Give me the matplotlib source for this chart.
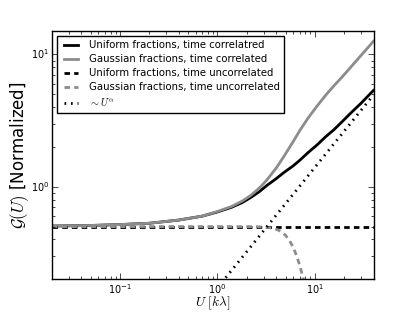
import numpy as np
import matplotlib
matplotlib.use("Agg")
import matplotlib.pyplot as plt

# values
u_corr = [0.02, 0.05, 0.1, 0.2, 0.4, 0.7, 1.0, 1.4, 1.8, 2.2, 2.7, 3.2, 4.0, 4.8, 6.0,
          7.1, 8.5, 10.6, 13.0, 15.7, 19.0, 23.3, 30.0, 37.4, 40.0]
uniform_corr = [0.505, 0.51, 0.518, 0.53, 0.56, 0.6, 0.645, 0.70, 0.76, 0.83, 0.92, 1.02, 1.15,
                1.28, 1.44, 1.60, 1.81, 2.08, 2.40, 2.70, 3.10, 3.60, 4.30, 5.09, 5.35]
gauss_corr = [0.505, 0.51, 0.518, 0.53, 0.56, 0.6, 0.65, 0.71, 0.78, 0.86, 0.98, 1.12, 1.38,
              1.69, 2.2, 2.70, 3.3, 4.1, 4.95, 5.8, 6.75, 8.0, 9.9, 11.9, 12.6]

u_uncorr = [0.02, 40.0]
uniform_uncorr = [0.5, 0.5]

u_gauss_uncorr = [0.02, 0.1, 1.0, 2.0, 2.5, 3.0, 3.5, 4.0, 4.5, 5.0, 5.5, 6.0, 6.5, 7.0, 7.5, 8.0, 8.5]
gauss_uncorr = [0.5, 0.5, 0.5, 0.5, 0.499, 0.496, 0.49, 0.478, 0.46, 0.43, 0.39, 0.35, 0.30, 0.255, 0.21, 0.17, 0.13]

u_power = [1.0, 40.0]
power = [0.172, 4.95]

plt.style.use("classic")
plt.rcParams["figure.facecolor"] = "white"
plt.rcParams["savefig.facecolor"] = "white"
plt.rcParams["lines.scale_dashes"] = False

fig, ax = plt.subplots(figsize=(4.15, 3.12), dpi=100)
fig.subplots_adjust(left=0.125, right=0.9, bottom=0.105, top=0.9)

gris = "#8c8c8c"
ax.plot(u_corr, uniform_corr, color="k", lw=2, label="Uniform fractions, time correlatred")
ax.plot(u_corr, gauss_corr, color=gris, lw=2, label="Gaussian fractions, time correlated")
ax.plot(u_uncorr, uniform_uncorr, color="k", lw=2, ls="--", dashes=(4, 3),
        label="Uniform fractions, time uncorrelated")
ax.plot(u_gauss_uncorr, gauss_uncorr, color=gris, lw=2, ls="--", dashes=(4, 3),
        label="Gaussian fractions, time uncorrelated")
ax.plot(u_power, power, color="k", lw=2, ls=":", dashes=(1.2, 3.5), label=r"$\sim U^{\alpha}$")

ax.set_xscale("log")
ax.set_yscale("log")
ax.set_xlim(0.02, 40)
ax.set_ylim(0.2, 15)

ax.tick_params(which="major", labelsize=7, pad=2)
ax.set_xlabel(r"$U\ [k\lambda]$", fontsize=9.5, labelpad=-1)
ax.set_ylabel(r"$\mathcal{G}(U)$ [Normalized]", fontsize=12, labelpad=0)

ax.legend(loc="upper left", fontsize=7.3, handlelength=2, borderpad=0.4,
          labelspacing=0.4, frameon=True, fancybox=False)

fig.savefig("out.png", dpi=100)
